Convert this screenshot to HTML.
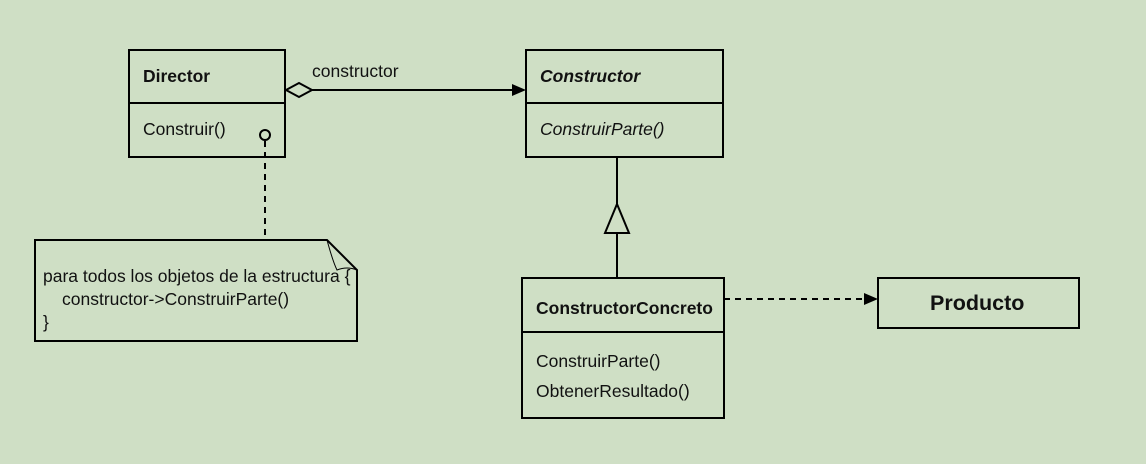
<!DOCTYPE html>
<html><head><meta charset="utf-8"><style>
html,body{margin:0;padding:0;background:#cfdfc5;}
svg{display:block;font-family:"Liberation Sans",sans-serif;}
</style></head><body>
<svg width="1146" height="464" viewBox="0 0 1146 464">
<rect width="1146" height="464" fill="#cfdfc5"/>
<g stroke="#000" stroke-width="2" fill="none">
<rect x="129" y="50" width="156" height="107"/>
<line x1="129" y1="103" x2="285" y2="103"/>
<rect x="526" y="50" width="197" height="107"/>
<line x1="526" y1="103" x2="723" y2="103"/>
<rect x="522" y="278" width="202" height="140"/>
<line x1="522" y1="332" x2="724" y2="332"/>
<rect x="878" y="278" width="201" height="50"/>
<line x1="312" y1="90" x2="516" y2="90"/>
<polygon points="286,90 299,83 312,90 299,97" fill="#cfdfc5"/>
<line x1="617" y1="157" x2="617" y2="204"/>
<polygon points="617,204 605,233 629,233" fill="#cfdfc5"/>
<line x1="617" y1="233" x2="617" y2="278"/>
<line x1="724" y1="299" x2="864" y2="299" stroke-dasharray="6,5"/>
<line x1="265" y1="141" x2="265" y2="240" stroke-dasharray="6,5"/>
<circle cx="265" cy="135" r="5" fill="#cfdfc5"/>
<path d="M35 240 H327 L357 270 V341 H35 Z"/>
<path d="M327 240 Q333 262 337 270 Q347 266 357 270" stroke-width="1"/>
</g>
<polygon points="526,90 512,84 512,96" fill="#000"/>
<polygon points="878,299 864,293 864,305" fill="#000"/>
<g font-size="17.5" fill="#111">
<text x="143" y="82" font-weight="bold">Director</text>
<text x="143" y="135">Construir()</text>
<text x="312" y="77">constructor</text>
<text x="540" y="82" font-weight="bold" font-style="italic">Constructor</text>
<text x="540" y="135" font-style="italic">ConstruirParte()</text>
<text x="536" y="314" font-weight="bold">ConstructorConcreto</text>
<text x="536" y="367">ConstruirParte()</text>
<text x="536" y="397">ObtenerResultado()</text>
<text x="930" y="310" font-weight="bold" font-size="21.5">Producto</text>
<text x="43" y="282">para todos los objetos de la estructura {</text>
<text x="62" y="305">constructor-&gt;ConstruirParte()</text>
<text x="43" y="328">}</text>
</g>
</svg>
</body></html>
